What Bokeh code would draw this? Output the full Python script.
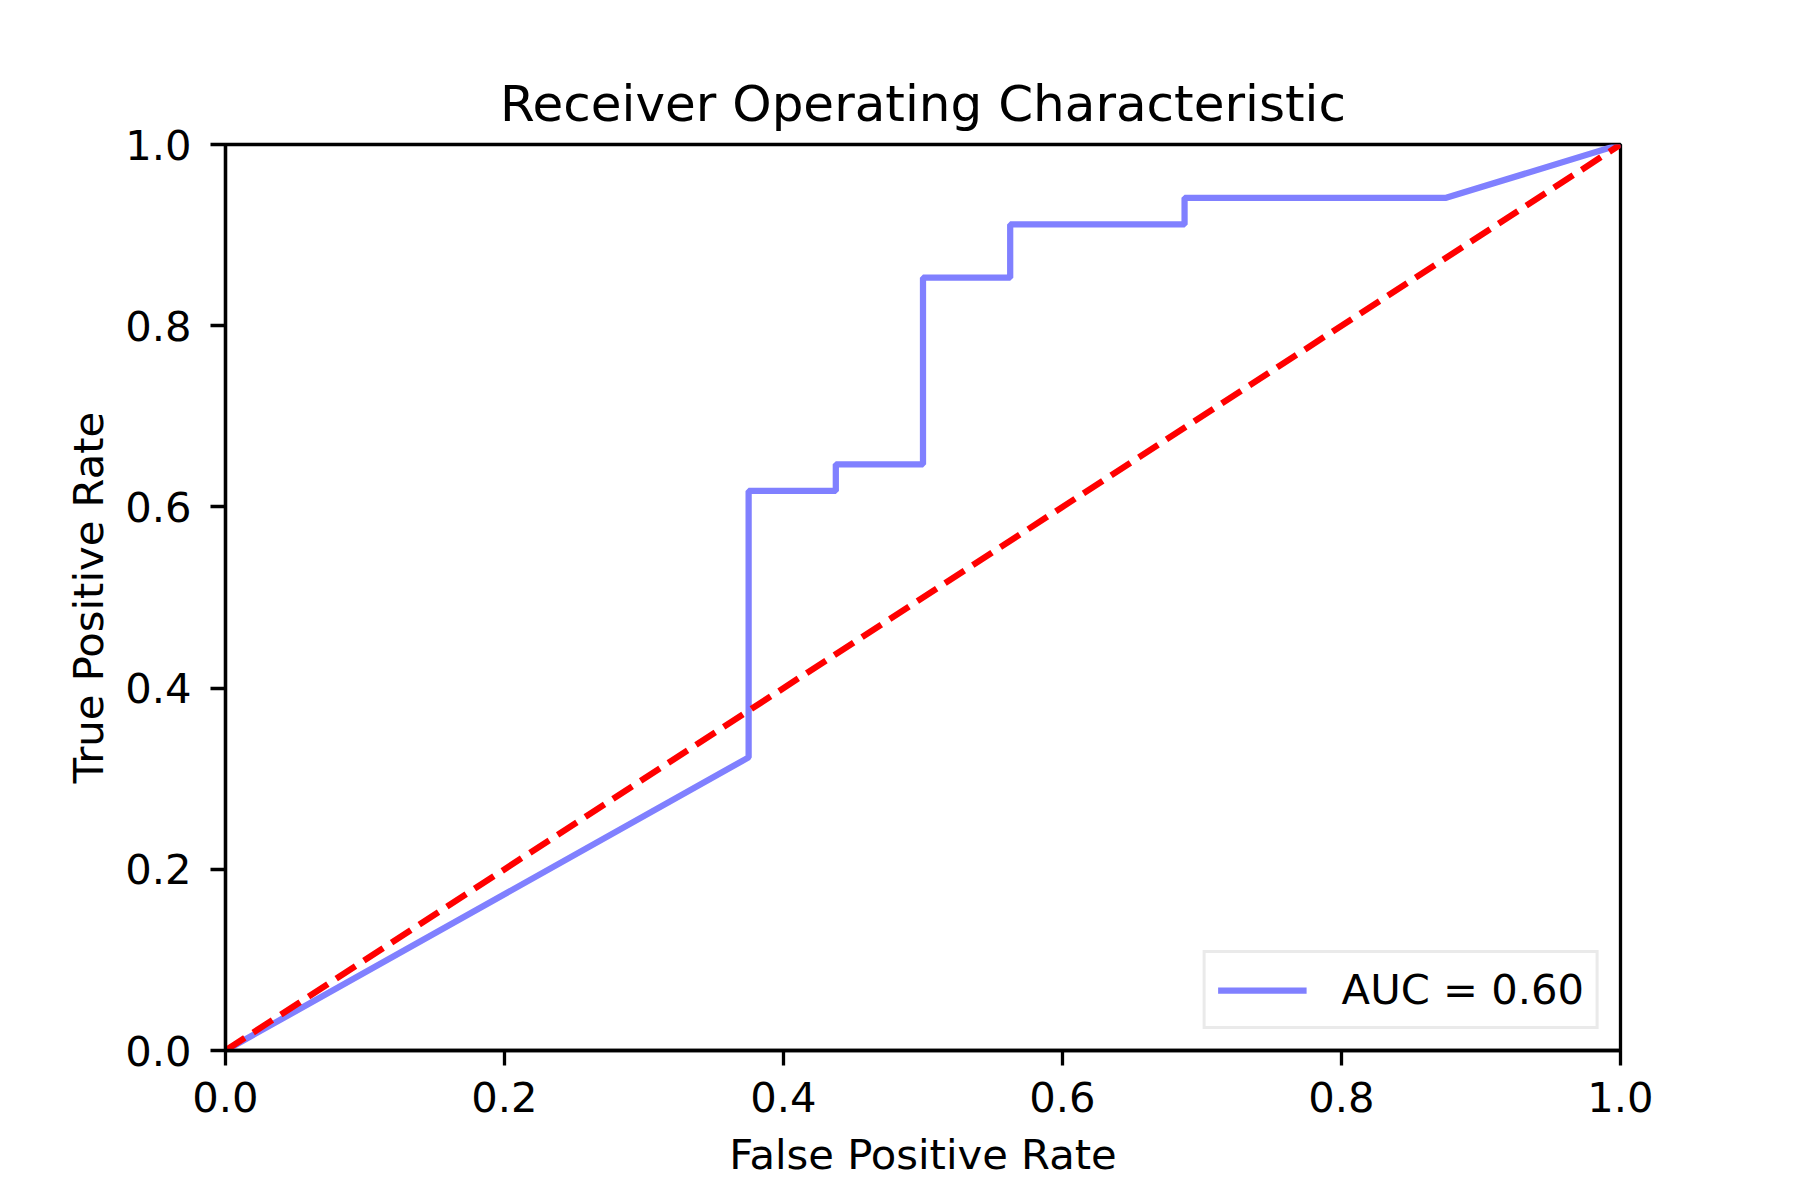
from bokeh.plotting import figure
from bokeh.models import Range1d, FixedTicker, PrintfTickFormatter, Legend, LegendItem
from bokeh.embed import file_html
from bokeh.resources import INLINE

# ROC data
fpr = [0.0, 0.375, 0.375, 0.4375, 0.4375, 0.5, 0.5, 0.5625, 0.5625, 0.6875, 0.6875, 0.875, 1.0]
tpr = [0.0, 11/34, 21/34, 21/34, 22/34, 22/34, 29/34, 29/34, 31/34, 31/34, 32/34, 32/34, 1.0]
diag_x = [0.0, 1.0]
diag_y = [0.0, 1.0]
auc_label = "AUC = 0.60"
ticks = [0.0, 0.2, 0.4, 0.6, 0.8, 1.0]

FONT = "DejaVu Sans"

p = figure(
    output_backend="svg", toolbar_location=None,
    frame_width=1395, frame_height=906,
    min_border_left=225, min_border_right=164, min_border_top=144, min_border_bottom=134,
    x_range=Range1d(0, 1), y_range=Range1d(0, 1),
    title="Receiver Operating Characteristic",
)
p.background_fill_color = "white"
p.border_fill_color = "white"
p.outline_line_color = "black"
p.outline_line_width = 3.3
p.grid.visible = False

p.title.align = "center"
p.title.text_font = FONT
p.title.text_font_size = "50px"
p.title.text_font_style = "normal"
p.title.text_color = "black"
p.title.standoff = 24

for ax in (p.xaxis[0], p.yaxis[0]):
    ax.ticker = FixedTicker(ticks=ticks)
    ax.formatter = PrintfTickFormatter(format="%.1f")
    ax.axis_line_color = "black"
    ax.axis_line_width = 3.3
    ax.major_tick_line_width = 3.3
    ax.major_tick_line_color = "black"
    ax.major_tick_out = 15
    ax.major_tick_in = 0
    ax.minor_tick_line_color = None
    ax.major_label_text_font = FONT
    ax.major_label_text_font_size = "41.7px"
    ax.major_label_text_color = "black"
    ax.axis_label_text_font = FONT
    ax.axis_label_text_font_size = "41.7px"
    ax.axis_label_text_font_style = "normal"
    ax.axis_label_text_color = "black"
    ax.major_label_standoff = 19

p.xaxis[0].major_label_standoff = 16
p.xaxis[0].axis_label = "False Positive Rate"
p.yaxis[0].axis_label = "True Positive Rate"
p.xaxis[0].axis_label_standoff = 15
p.yaxis[0].axis_label_standoff = 9

roc = p.line(fpr, tpr, line_color="#8080ff", line_width=6.25)
p.line(diag_x, diag_y, line_color="#ff0000", line_width=6.25, line_dash="23 10")

legend = Legend(
    items=[LegendItem(label=auc_label, renderers=[roc])],
    location="bottom_right",
    margin=21,
    padding=12,
    glyph_width=89,
    glyph_height=42,
    label_standoff=35,
    label_text_font=FONT,
    label_text_font_size="41.7px",
    label_text_color="black",
    border_line_color="#d6d6d6",
    border_line_width=3.3,
    background_fill_color="white",
    background_fill_alpha=0.8,
)
p.add_layout(legend)

open("out.html", "w").write(file_html(p, INLINE))
